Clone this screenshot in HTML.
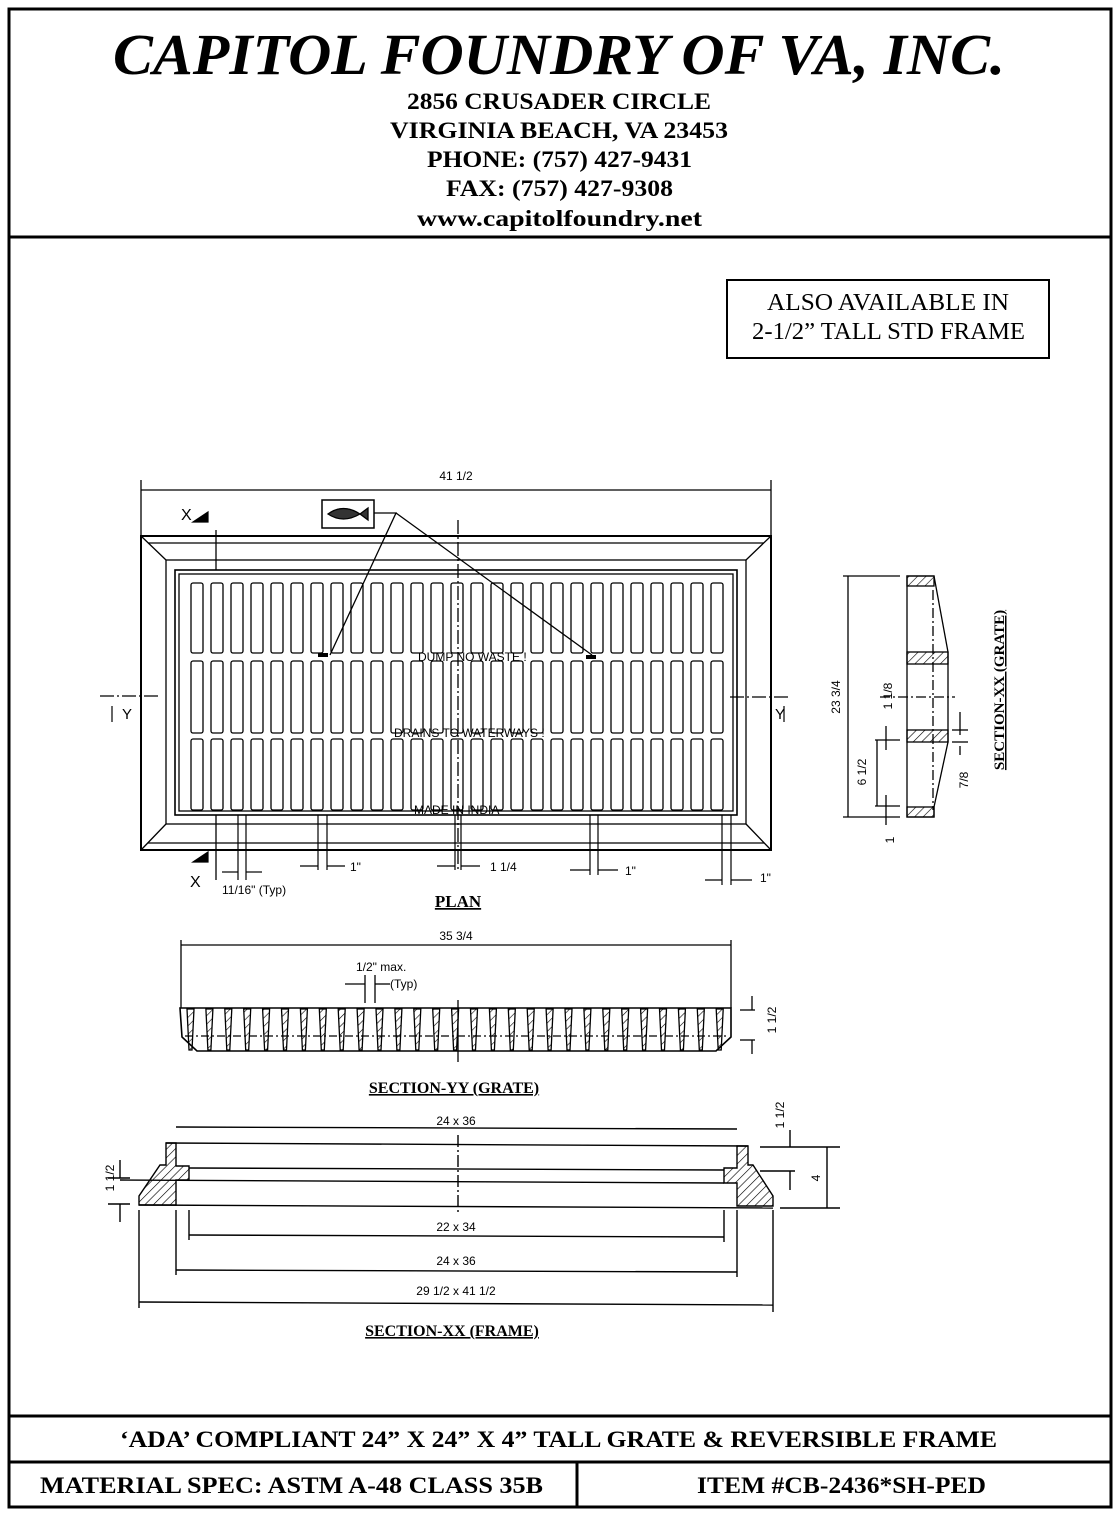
<!DOCTYPE html>
<html><head><meta charset="utf-8"><style>
html,body{margin:0;padding:0;background:#fff}
svg{display:block}
.h{font-family:"Liberation Serif",serif;font-weight:bold}
.d{font-family:"Liberation Sans",sans-serif;font-size:12px}
</style></head><body>
<svg width="1120" height="1516" viewBox="0 0 1120 1516" xmlns="http://www.w3.org/2000/svg">
<defs>
<pattern id="hx" width="6" height="6" patternUnits="userSpaceOnUse" patternTransform="rotate(45)"><line x1="0" y1="0" x2="0" y2="6" stroke="#000" stroke-width="1.2"/></pattern>
</defs>
<rect x="9" y="9" width="1102" height="1498" fill="none" stroke="#000" stroke-width="3"/>
<line x1="9" y1="237" x2="1111" y2="237" stroke="#000" stroke-width="3"/>
<text x="113" y="74" class="h" font-size="58" font-style="italic" textLength="892" lengthAdjust="spacingAndGlyphs">CAPITOL FOUNDRY OF VA, INC.</text>
<g class="h" font-size="23">
<text x="407" y="109" textLength="304" lengthAdjust="spacingAndGlyphs">2856 CRUSADER CIRCLE</text>
<text x="390" y="138" textLength="338" lengthAdjust="spacingAndGlyphs">VIRGINIA BEACH, VA 23453</text>
<text x="427" y="167" textLength="265" lengthAdjust="spacingAndGlyphs">PHONE: (757) 427-9431</text>
<text x="446" y="196" textLength="227" lengthAdjust="spacingAndGlyphs">FAX: (757) 427-9308</text>
<text x="417" y="226" textLength="285" lengthAdjust="spacingAndGlyphs">www.capitolfoundry.net</text>
</g>
<rect x="727" y="280" width="322" height="78" fill="none" stroke="#000" stroke-width="2"/>
<g font-family="Liberation Serif,serif" font-size="24">
<text x="767" y="310" textLength="242" lengthAdjust="spacingAndGlyphs">ALSO AVAILABLE IN</text>
<text x="752" y="339" textLength="273" lengthAdjust="spacingAndGlyphs">2-1/2” TALL STD FRAME</text>
</g>

<!-- PLAN -->
<g stroke="#000" fill="none" stroke-width="1.3">
<line x1="141" y1="490" x2="771" y2="490"/>
<line x1="141" y1="480" x2="141" y2="536"/><line x1="771" y1="480" x2="771" y2="536"/>
<rect x="141" y="536" width="630" height="314" stroke-width="2"/>
<rect x="166" y="560" width="580" height="264"/>
<line x1="141" y1="536" x2="166" y2="560"/><line x1="771" y1="536" x2="746" y2="560"/>
<line x1="141" y1="850" x2="166" y2="824"/><line x1="771" y1="850" x2="746" y2="824"/>
<line x1="148" y1="543" x2="764" y2="543"/><line x1="148" y1="843" x2="764" y2="843"/>
<rect x="175" y="570" width="562" height="245" stroke-width="1.6"/>
<rect x="179" y="574" width="554" height="237"/>
<line x1="458" y1="520" x2="458" y2="870" stroke-dasharray="14 3 2 3"/>
<line x1="100" y1="696" x2="160" y2="696" stroke-dasharray="14 3 2 3"/>
<line x1="730" y1="697" x2="790" y2="697" stroke-dasharray="14 3 2 3"/>
<line x1="216" y1="530" x2="216" y2="570"/><line x1="216" y1="815" x2="216" y2="880"/>
<rect x="322" y="500" width="52" height="28" stroke-width="1.5"/>
<path d="M374 513 L396 513 L330 655 M396 513 L592 655"/>
<path d="M328 514 Q343 503 360 514 Q343 524 328 514 Z M360 514 L368 508 L368 520 Z" fill="#333"/>
<path d="M318 655 L328 655 M586 657 L596 657" stroke-width="4"/>
</g>
<g id="slots" stroke="#000" fill="none" stroke-width="1.3">
</g>
<g class="d" font-size="12">
<text x="456" y="480" text-anchor="middle">41 1/2</text>
<text x="418" y="661">DUMP NO WASTE !</text>
<text x="394" y="737">DRAINS TO WATERWAYS !</text>
<text x="414" y="814">MADE IN INDIA</text>
<text x="222" y="894">11/16" (Typ)</text>
<text x="350" y="871">1"</text>
<text x="490" y="871">1 1/4</text>
<text x="625" y="875">1"</text>
<text x="760" y="882">1"</text>
<text x="181" y="520" font-size="16">X</text>
<text x="190" y="887" font-size="16">X</text>
<text x="122" y="719" font-size="15">Y</text>
<text x="775" y="719" font-size="15">Y</text>
</g>
<g stroke="#000" stroke-width="1.2">
<path d="M193 522 L208 512 L208 522 Z" fill="#000"/><path d="M193 862 L208 852 L208 862 Z" fill="#000"/>
<line x1="112" y1="706" x2="112" y2="722"/><line x1="784" y1="706" x2="784" y2="722"/>
<line x1="238" y1="815" x2="238" y2="880"/><line x1="246" y1="815" x2="246" y2="880"/>
<line x1="318" y1="815" x2="318" y2="870"/><line x1="327" y1="815" x2="327" y2="870"/>
<line x1="455" y1="815" x2="455" y2="870"/><line x1="461" y1="815" x2="461" y2="870"/>
<line x1="590" y1="815" x2="590" y2="875"/><line x1="598" y1="815" x2="598" y2="875"/>
<line x1="722" y1="815" x2="722" y2="885"/><line x1="731" y1="815" x2="731" y2="885"/>
<line x1="300" y1="866" x2="318" y2="866"/><line x1="327" y1="866" x2="345" y2="866"/>
<line x1="437" y1="866" x2="455" y2="866"/><line x1="461" y1="866" x2="480" y2="866"/>
<line x1="570" y1="870" x2="590" y2="870"/><line x1="598" y1="870" x2="618" y2="870"/>
<line x1="705" y1="880" x2="722" y2="880"/><line x1="731" y1="880" x2="752" y2="880"/>
<line x1="222" y1="872" x2="238" y2="872"/><line x1="246" y1="872" x2="262" y2="872"/>
</g>
<text x="458" y="907" text-anchor="middle" font-family="Liberation Serif,serif" font-weight="bold" font-size="17" text-decoration="underline">PLAN</text>

<!-- SECTION XX GRATE -->
<g stroke="#000" fill="none" stroke-width="1.3">
<line x1="843" y1="576" x2="900" y2="576"/><line x1="843" y1="817" x2="900" y2="817"/>
<line x1="848" y1="576" x2="848" y2="817"/>
<path d="M907 576 L934 576 L948 652 L948 742 L934 807 L934 817 L907 817 Z"/>
<rect x="907" y="576" width="27" height="10" fill="url(#hx)"/>
<rect x="907" y="652" width="41" height="12" fill="url(#hx)"/>
<rect x="907" y="730" width="41" height="12" fill="url(#hx)"/>
<rect x="907" y="807" width="27" height="10" fill="url(#hx)"/>
<line x1="933" y1="590" x2="933" y2="810" stroke-dasharray="10 3 2 3"/>
<line x1="880" y1="697" x2="955" y2="697" stroke-dasharray="10 3 2 3"/>
<line x1="875" y1="740" x2="900" y2="740"/><line x1="875" y1="806" x2="900" y2="806"/><line x1="877" y1="740" x2="877" y2="806"/>
<line x1="886" y1="726" x2="886" y2="750"/><line x1="886" y1="795" x2="886" y2="825"/>
<line x1="960" y1="712" x2="960" y2="735"/><line x1="960" y1="746" x2="960" y2="755"/><line x1="952" y1="730" x2="968" y2="730"/><line x1="952" y1="742" x2="968" y2="742"/>
</g>
<g class="d" font-size="13">
<text transform="translate(840,697) rotate(-90)" text-anchor="middle">23 3/4</text>
<text transform="translate(892,696) rotate(-90)" text-anchor="middle">1 1/8</text>
<text transform="translate(866,772) rotate(-90)" text-anchor="middle">6 1/2</text>
<text transform="translate(968,780) rotate(-90)" text-anchor="middle">7/8</text>
<text transform="translate(894,840) rotate(-90)" text-anchor="middle">1</text>
</g>
<text transform="translate(1004,690) rotate(-90)" text-anchor="middle" font-family="Liberation Serif,serif" font-weight="bold" font-size="15" text-decoration="underline">SECTION-XX (GRATE)</text>

<!-- SECTION YY -->
<g stroke="#000" fill="none" stroke-width="1.3">
<line x1="181" y1="945" x2="731" y2="945"/>
<line x1="181" y1="940" x2="181" y2="1008"/><line x1="731" y1="940" x2="731" y2="1008"/>
<path d="M180 1008 L731 1008 L731 1037 L716 1051 L197 1051 L182 1037 Z" stroke-width="1.6"/>
<line x1="185" y1="1036" x2="728" y2="1036" stroke-dasharray="8 3 2 3"/>
<line x1="458" y1="1000" x2="458" y2="1062"/>
<line x1="365" y1="975" x2="365" y2="1003"/><line x1="375" y1="975" x2="375" y2="1003"/>
<line x1="345" y1="984" x2="365" y2="984"/><line x1="375" y1="984" x2="390" y2="984"/>
<line x1="740" y1="1010" x2="755" y2="1010"/><line x1="740" y1="1040" x2="755" y2="1040"/>
<line x1="752" y1="996" x2="752" y2="1010"/><line x1="752" y1="1040" x2="752" y2="1054"/>
</g>
<g id="bars" stroke="#000" stroke-width="1.3" fill="url(#hx)"></g>
<g class="d" font-size="13">
<text x="456" y="940" text-anchor="middle">35 3/4</text>
<text x="356" y="971">1/2" max.</text>
<text x="390" y="988">(Typ)</text>
<text transform="translate(776,1020) rotate(-90)" text-anchor="middle">1 1/2</text>
</g>
<text x="454" y="1093" text-anchor="middle" font-family="Liberation Serif,serif" font-weight="bold" font-size="16" text-decoration="underline">SECTION-YY (GRATE)</text>

<!-- SECTION XX FRAME -->
<g stroke="#000" fill="none" stroke-width="1.4">
<line x1="166" y1="1143" x2="748" y2="1146"/>
<line x1="189" y1="1168" x2="724" y2="1170"/>
<line x1="120" y1="1180" x2="724" y2="1183"/>
<line x1="139" y1="1205" x2="773" y2="1208"/>
<path d="M166 1143 L176 1143 L176 1166 L189 1166 L189 1180 L176 1180 L176 1205 L139 1205 L139 1196 L160 1165 L166 1165 Z" fill="url(#hx)"/>
<path d="M748 1146 L737 1146 L737 1168 L724 1168 L724 1183 L737 1183 L737 1206 L773 1206 L773 1196 L753 1165 L748 1165 Z" fill="url(#hx)"/>
<line x1="458" y1="1135" x2="458" y2="1215" stroke-dasharray="12 3 2 3"/>
<line x1="176" y1="1127" x2="737" y2="1129"/>
<line x1="189" y1="1235" x2="724" y2="1237"/><line x1="189" y1="1210" x2="189" y2="1240"/><line x1="724" y1="1210" x2="724" y2="1242"/>
<line x1="176" y1="1270" x2="737" y2="1272"/><line x1="176" y1="1210" x2="176" y2="1275"/><line x1="737" y1="1210" x2="737" y2="1277"/>
<line x1="139" y1="1302" x2="773" y2="1305"/><line x1="139" y1="1210" x2="139" y2="1308"/><line x1="773" y1="1210" x2="773" y2="1312"/>
<line x1="760" y1="1147" x2="840" y2="1147"/><line x1="760" y1="1171" x2="795" y2="1171"/><line x1="780" y1="1208" x2="840" y2="1208"/>
<line x1="827" y1="1147" x2="827" y2="1208"/><line x1="790" y1="1130" x2="790" y2="1147"/><line x1="790" y1="1171" x2="790" y2="1190"/>
<line x1="108" y1="1178" x2="130" y2="1178"/><line x1="108" y1="1204" x2="130" y2="1204"/>
<line x1="120" y1="1160" x2="120" y2="1178"/><line x1="120" y1="1204" x2="120" y2="1222"/>
</g>
<g class="d" font-size="13" text-anchor="middle">
<text x="456" y="1125">24 x 36</text>
<text x="456" y="1231">22 x 34</text>
<text x="456" y="1265">24 x 36</text>
<text x="456" y="1295">29 1/2 x 41 1/2</text>
<text transform="translate(784,1115) rotate(-90)">1 1/2</text>
<text transform="translate(820,1178) rotate(-90)">4</text>
<text transform="translate(114,1178) rotate(-90)">1 1/2</text>
</g>
<text x="452" y="1336" text-anchor="middle" font-family="Liberation Serif,serif" font-weight="bold" font-size="16" text-decoration="underline">SECTION-XX (FRAME)</text>

<!-- footer -->
<line x1="9" y1="1416" x2="1111" y2="1416" stroke="#000" stroke-width="3"/>
<line x1="9" y1="1462" x2="1111" y2="1462" stroke="#000" stroke-width="3"/>
<line x1="577" y1="1462" x2="577" y2="1507" stroke="#000" stroke-width="3"/>
<text x="120" y="1447" class="h" font-size="23" textLength="877" lengthAdjust="spacingAndGlyphs">‘ADA’ COMPLIANT 24” X 24” X 4” TALL GRATE &amp; REVERSIBLE FRAME</text>
<text x="40" y="1493" class="h" font-size="23" textLength="503" lengthAdjust="spacingAndGlyphs">MATERIAL SPEC:  ASTM A-48 CLASS 35B</text>
<text x="697" y="1493" class="h" font-size="23" textLength="289" lengthAdjust="spacingAndGlyphs">ITEM #CB-2436*SH-PED</text>
</svg>
<script>
var ns="http://www.w3.org/2000/svg",g=document.getElementById("slots");
var rows=[[583,70],[661,72],[739,71]];
for(var i=0;i<27;i++){for(var r=0;r<3;r++){var e=document.createElementNS(ns,"rect");
e.setAttribute("x",191+i*20.0);e.setAttribute("y",rows[r][0]);e.setAttribute("width",12);e.setAttribute("height",rows[r][1]);e.setAttribute("rx",2);g.appendChild(e);}}
var b=document.getElementById("bars");
for(var j=0;j<29;j++){var x=187+j*18.9;var p=document.createElementNS(ns,"path");
p.setAttribute("d","M"+x+" 1009 L"+(x+7)+" 1009 L"+(x+5)+" 1050 L"+(x+2)+" 1050 Z");b.appendChild(p);}
</script>
</body></html>
